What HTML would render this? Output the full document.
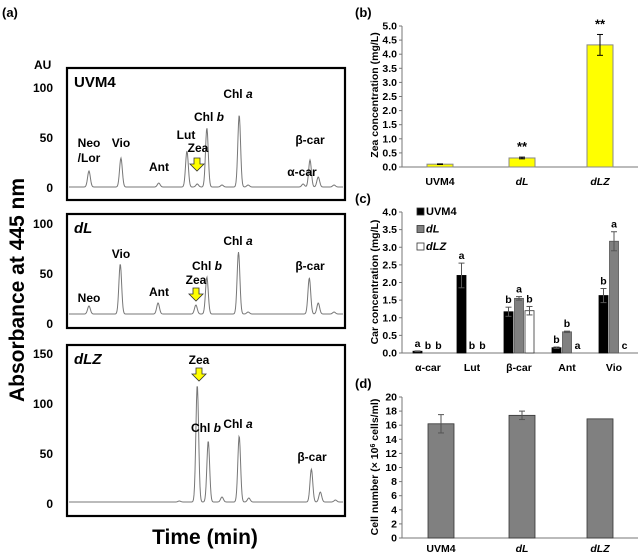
<!DOCTYPE html>
<html><head><meta charset="utf-8"><style>
body{margin:0;background:#fff}
svg{font-family:"Liberation Sans",sans-serif;display:block}
.b{font-weight:bold}
</style></head><body>
<svg id="s" width="642" height="556" viewBox="0 0 642 556">
<g id="pa"></g>
<g id="pb"></g>
<g id="pc"></g>
<g id="pd"></g>
</svg>
<script>
// ---- Panel a data (chromatograms) ----
const peakTimesUVM4=[3.05,7.7,13.2,17.3,18.8,20.2,22.4,24.9,26.2,34.2,35.2,36.4,38.7];
const peakHeightsUVM4=[16,29,4,36,3,59,2,72,2,3,27,10,2];
const peakTimesDL=[3.05,7.6,13.1,18.6,20.2,24.8,26.2,35.1,36.4,38.7];
const peakHeightsDL=[8,50,11,9,37,62,2,36,11,2];
const peakTimesDLZ=[18.8,20.4,22.4,24.9,26.3,35.4,36.7,38.9,16.2];
const peakHeightsDLZ=[117,61,5,66,4,33,10,2,1];
// ---- Panel b data ----
const zeaCats=["UVM4","dL","dLZ"];
const zeaVals=[0.1,0.32,4.33];
const zeaErr=[0.01,0.03,0.37];
const zeaTicks=["0.0","0.5","1.0","1.5","2.0","2.5","3.0","3.5","4.0","4.5","5.0"];
// ---- Panel c data ----
const carCats=["α-car","Lut","β-car","Ant","Vio"];
const carUVM4=[0.05,2.2,1.17,0.15,1.63];
const carDL=[0,0,1.55,0.6,3.17];
const carDLZ=[0,0,1.2,0,0];
const carErrUVM4=[0.01,0.35,0.13,0.02,0.2];
const carErrDL=[0,0,0.05,0.02,0.27];
const carErrDLZ=[0,0,0.12,0,0];
const carLetUVM4=["a","a","b","b","b"];
const carLetDL=["b","b","a","b","a"];
const carLetDLZ=["b","b","b","a","c"];
const carTicks=["0.0","0.5","1.0","1.5","2.0","2.5","3.0","3.5","4.0"];
// ---- Panel d data ----
const cellCats=["UVM4","dL","dLZ"];
const cellVals=[16.2,17.4,16.9];
const cellErr=[1.3,0.6,0];
const cellTicks=[0,2,4,6,8,10,12,14,16,18,20];

const NS="http://www.w3.org/2000/svg";
function el(p,tag,a,txt){const e=document.createElementNS(NS,tag);for(const k in a)e.setAttribute(k,a[k]);if(txt!==undefined)e.textContent=txt;p.appendChild(e);return e;}

// ---------- Panel a ----------
const pa=document.getElementById('pa');
let t=el(pa,'text',{x:2,y:17,'font-size':13,class:'b'},'(a)');

t=el(pa,'text',{x:24,y:290,'font-size':21,class:'b','text-anchor':'middle',transform:'rotate(-90 24 290)'},'Absorbance at 445 nm');

t=el(pa,'text',{x:205,y:544,'font-size':21,class:'b','text-anchor':'middle'},'Time (min)');

t=el(pa,'text',{x:34,y:69,'font-size':12,class:'b'},'AU');

function chrom(name,top,bot,zeroY,base,ticks,times,heights,title,italic,labels,arrow){
  const g=el(pa,'g',{});
  
  const r=el(g,'rect',{x:67,y:top,width:278,height:bot-top,fill:'none',stroke:'#000','stroke-width':2.2});
  
  ticks.forEach(v=>{const tk=el(g,'text',{x:53,y:zeroY-v+5,'font-size':12,class:'b','text-anchor':'end'},String(v));
    });
  let d='';
  for(let px=69;px<=343;px+=0.5){
    const tm=(px-68)/6.875;let y=base;
    for(let i=0;i<times.length;i++){const dt=tm-times[i];y+=heights[i]*Math.exp(-dt*dt/(2*0.2*0.2));}
    d+=(px===69?'M':'L')+px+','+(zeroY-y).toFixed(2);
  }
  const p=el(g,'path',{d:d,fill:'none',stroke:'#777','stroke-width':1});
  
  const ti=el(g,'text',{x:74,y:top+19,'font-size':15,class:'b','font-style':italic?'italic':'normal'},title);
  
  labels.forEach(L=>{const lt=el(g,'text',{x:L[1],y:L[2],'font-size':12,class:'b','text-anchor':'middle'});
    
    lt.innerHTML=L[0];});
  if(arrow){const a=el(g,'path',{d:`M${arrow[0]-3},${arrow[1]} h6 v6 h4 l-7,7 l-7,-7 h4 z`,fill:'#ffff00',stroke:'#333','stroke-width':0.8});
    }
}
chrom('chromatogram-uvm4',68,200,187,0,[100,50,0],peakTimesUVM4,peakHeightsUVM4,'UVM4',false,
 [['Neo',89,147],['/Lor',89,162],['Vio',121,147],['Ant',159,171],['Lut',186,139],['Zea',198,152],['Chl <tspan font-style="italic">b</tspan>',209,121],['Chl <tspan font-style="italic">a</tspan>',238,98],['β-car',310,144],['α-car',302,176]],[197,158]);
chrom('chromatogram-dl',214,328,323,9,[100,50,0],peakTimesDL,peakHeightsDL,'dL',true,
 [['Neo',89,302],['Vio',121,258],['Ant',159,296],['Zea',196,284],['Chl <tspan font-style="italic">b</tspan>',207,270],['Chl <tspan font-style="italic">a</tspan>',238,245],['β-car',310,270]],[196,288]);
chrom('chromatogram-dlz',345,516,503,1,[150,100,50,0],peakTimesDLZ,peakHeightsDLZ,'dLZ',true,
 [['Zea',199,364],['Chl <tspan font-style="italic">b</tspan>',206,432],['Chl <tspan font-style="italic">a</tspan>',238,428],['β-car',312,461]],[199,368]);

// ---------- bar chart helper ----------
function axes(g,x0,x1,y0,y1,ticks,maxV,title,tcy){
  const ax=el(g,'line',{x1:x0,y1:y1,x2:x0,y2:y0,stroke:'#777','stroke-width':1});
  
  const bx=el(g,'line',{x1:x0,y1:y0,x2:x1,y2:y0,stroke:'#777','stroke-width':1});
  
  ticks.forEach(s=>{const v=parseFloat(s);const y=y0-(y0-y1)*v/maxV;
    el(g,'line',{x1:x0-3,y1:y,x2:x0,y2:y,stroke:'#777'});
    const tk=el(g,'text',{x:x0-5,y:y+3.5,'font-size':10.5,class:'b','text-anchor':'end'},String(s));
    });
  const yt=el(g,'text',{x:378,y:tcy,'font-size':10.5,class:'b','text-anchor':'middle',transform:`rotate(-90 378 ${tcy})`},'');
  yt.innerHTML=title;
}
function errbar(g,cx,yTop,yBot,col){
  el(g,'line',{x1:cx,y1:yTop,x2:cx,y2:yBot,stroke:col,'stroke-width':1});
  el(g,'line',{x1:cx-3,y1:yTop,x2:cx+3,y2:yTop,stroke:col,'stroke-width':1});
  el(g,'line',{x1:cx-3,y1:yBot,x2:cx+3,y2:yBot,stroke:col,'stroke-width':1});
}

// ---------- Panel b ----------
const pb=document.getElementById('pb');
t=el(pb,'text',{x:355,y:17,'font-size':13,class:'b'},'(b)');

{const y0=167,y1=26,max=5,ys=v=>y0-(y0-y1)*v/max;const cx=[440,522,600];
axes(pb,402,638,y0,y1,zeaTicks,max,'Zea concentration (mg/L)',95);
zeaVals.forEach((v,i)=>{const r=el(pb,'rect',{x:cx[i]-13,y:ys(v),width:26,height:y0-ys(v),fill:'#ffff00',stroke:'#888','stroke-width':1});
  
  errbar(pb,cx[i],ys(v+zeaErr[i]),ys(v-zeaErr[i]),'#000');
  if(i>0){const s=el(pb,'text',{x:cx[i],y:ys(v+zeaErr[i])-6,'font-size':13,class:'b','text-anchor':'middle'},'**');
    }
  const c=el(pb,'text',{x:cx[i],y:185,'font-size':10.5,class:'b','text-anchor':'middle','font-style':i?'italic':'normal'},zeaCats[i]);
  });}

// ---------- Panel c ----------
const pc=document.getElementById('pc');
t=el(pc,'text',{x:355,y:203,'font-size':13,class:'b'},'(c)');

{const y0=353,y1=212,max=4,ys=v=>y0-(y0-y1)*v/max;const gx=[428,472,519,567,614];
axes(pc,402,638,y0,y1,carTicks,max,'Car concentration (mg/L)',282);
const series=[[carUVM4,carErrUVM4,carLetUVM4,'#000','#000','uvm4'],[carDL,carErrDL,carLetDL,'#808080','#555','dl'],[carDLZ,carErrDLZ,carLetDLZ,'#fff','#333','dlz']];
carCats.forEach((c,i)=>{
  series.forEach((s,k)=>{const cx=gx[i]+(k-1)*10.5;const v=s[0][i];
    if(v>0){const r=el(pc,'rect',{x:cx-4.5,y:ys(v),width:9,height:y0-ys(v),fill:s[3],stroke:s[4],'stroke-width':0.8});
      }
    if(s[1][i]>0)errbar(pc,cx,ys(v+s[1][i]),ys(v-s[1][i]),'#555');
    const lt=el(pc,'text',{x:cx,y:ys(v+s[1][i])-4,'font-size':10.5,class:'b','text-anchor':'middle'},s[2][i]);
    });
  const ct=el(pc,'text',{x:gx[i],y:371,'font-size':10.5,class:'b','text-anchor':'middle'},c);
  });
[['UVM4','#000',false],['dL','#808080',true],['dLZ','#fff',true]].forEach((L,k)=>{
  const y=215+k*17.5;
  const r=el(pc,'rect',{x:417,y:y-7,width:7,height:7,fill:L[1],stroke:'#333','stroke-width':0.8});
  
  const lt=el(pc,'text',{x:426,y:y,'font-size':11,class:'b','font-style':L[2]?'italic':'normal'},L[0]);
  });}

// ---------- Panel d ----------
const pd=document.getElementById('pd');
t=el(pd,'text',{x:355,y:388,'font-size':13,class:'b'},'(d)');

{const y0=538,y1=397,max=20,ys=v=>y0-(y0-y1)*v/max;const cx=[441,522,600];
axes(pd,402,638,y0,y1,cellTicks.map(String),max,'Cell number (× 10<tspan baseline-shift="super" font-size="7">6</tspan> cells/ml)',467);
cellVals.forEach((v,i)=>{const r=el(pd,'rect',{x:cx[i]-13,y:ys(v),width:26,height:y0-ys(v),fill:'#808080',stroke:'#333','stroke-width':0.8});
  
  if(cellErr[i]>0)errbar(pd,cx[i],ys(v+cellErr[i]),ys(v-cellErr[i]),'#555');
  const c=el(pd,'text',{x:cx[i],y:552,'font-size':10.5,class:'b','text-anchor':'middle','font-style':i?'italic':'normal'},cellCats[i]);
  });}
</script>
</body></html>
